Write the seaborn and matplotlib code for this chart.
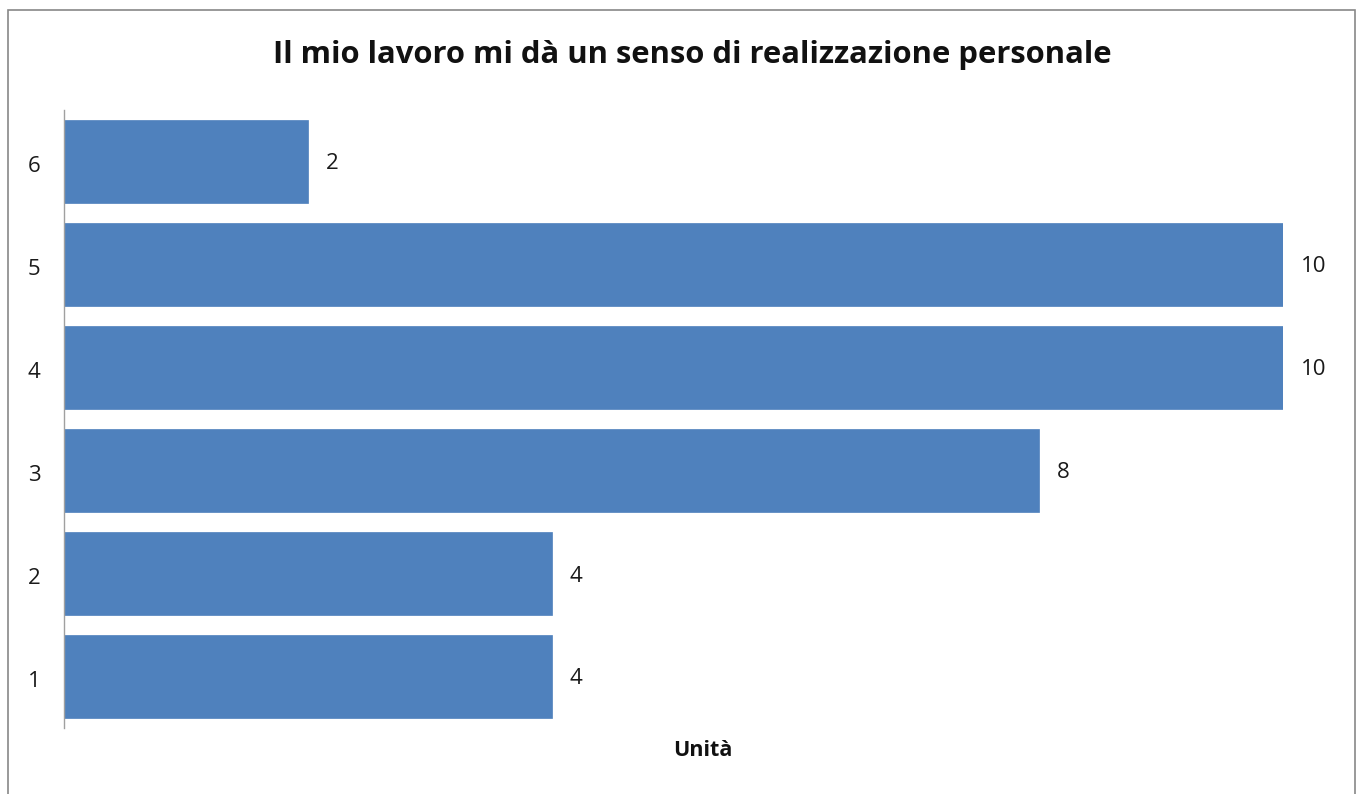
import matplotlib
matplotlib.use("Agg")
import matplotlib.pyplot as plt
import matplotlib.transforms as mtransforms
import seaborn as sns
import pandas as pd
from matplotlib.patches import Rectangle

categories = ["6", "5", "4", "3", "2", "1"]
values = [2, 10, 10, 8, 4, 4]
title = "Il mio lavoro mi dà un senso di realizzazione personale"
xlabel = "Unità"

sns.set_theme(style="white")
plt.rcParams["font.family"] = ["Open Sans", "DejaVu Sans"]

W, H = 1359, 794
fig = plt.figure(figsize=(W / 100, H / 100), dpi=100)
ax = fig.add_axes([64 / W, 1 - 728 / H, (1283 - 64) / W, (728 - 110) / H])

df = pd.DataFrame({"cat": categories, "val": values})
sns.barplot(data=df, y="cat", x="val", order=categories, orient="h",
            color="#4F81BD", saturation=1, width=0.8, ax=ax)
for p in ax.patches:
    p.set_edgecolor("#4F81BD")
    p.set_linewidth(0.5)

ax.set_xlim(0, 10)
ax.set_ylim(5.5, -0.5)
for c in ax.containers:
    labels = ax.bar_label(c, padding=13, fontsize=16, color="#1a1a1a", clip_on=False)
    for t in labels:
        t.xyann = (13, -1.8)

shift = mtransforms.ScaledTranslation(0, -2.5 / 100, fig.dpi_scale_trans)
for s in ["top", "right", "bottom"]:
    ax.spines[s].set_visible(False)
ax.spines["left"].set_color("#A0A0A0")
ax.spines["left"].set_linewidth(1)
ax.set_xticks([])
ax.tick_params(axis="y", length=0, pad=17, labelsize=16, labelcolor="#1a1a1a")
for t in ax.get_yticklabels():
    t.set_transform(t.get_transform() + shift)
ax.set_ylabel("")
ax.set_xlabel("")

fig.text(692 / W, 1 - 55 / H, title, ha="center", va="center",
         fontsize=22.3, fontweight="bold", color="#111111")
fig.text(703 / W, 1 - 751 / H, xlabel, ha="center", va="center",
         fontsize=15.5, fontweight="bold", color="#111111")

fig.patches.append(Rectangle((8 / W, -0.05), (1355 - 8) / W, 1 - 10 / H + 0.05,
                             transform=fig.transFigure, fill=False,
                             edgecolor="#888888", linewidth=1.2))

fig.savefig("out.png", dpi=100)
